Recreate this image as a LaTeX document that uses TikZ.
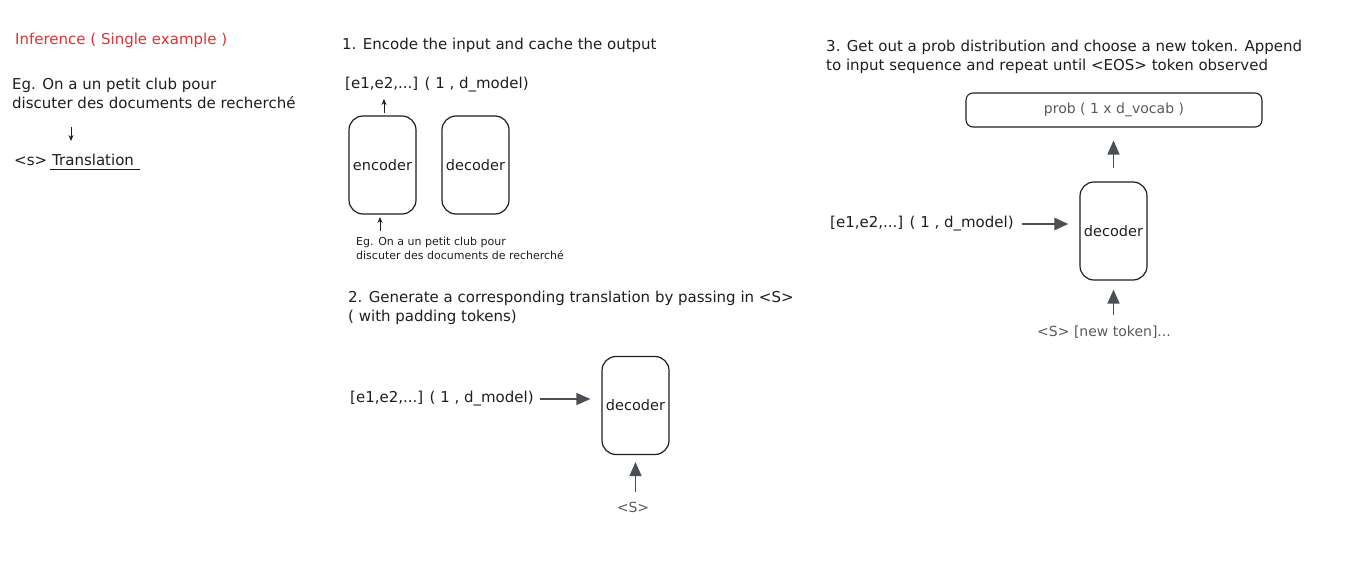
\documentclass[tikz,border=0pt]{standalone}
\usepackage{fontspec}
\setmainfont{DejaVu Sans}
\usetikzlibrary{arrows.meta}
\definecolor{exred}{HTML}{E03131}
\definecolor{exgray}{HTML}{555B61}
\definecolor{exdark}{HTML}{1E1E1E}
\definecolor{arrgray}{HTML}{4A4F55}
\tikzset{
  txt/.style={anchor=west,inner sep=0pt,font=\fontsize{15}{19}\selectfont,text=exdark},
  txtml/.style={anchor=north west,inner sep=0pt,align=left,font=\fontsize{15}{19}\selectfont,text=exdark},
  smalltxt/.style={anchor=north west,inner sep=0pt,align=left,font=\fontsize{11}{14}\selectfont,text=exdark},
  block/.style={draw=exdark,line width=1.2pt,rounded corners=14pt,minimum width=67pt,minimum height=98pt,inner sep=0pt,font=\fontsize{14.5}{19}\selectfont,text=exdark},
  probbox/.style={draw=exdark,line width=1.1pt,rounded corners=7pt,minimum width=296pt,minimum height=34pt,inner sep=0pt,font=\fontsize{14}{18}\selectfont,text=exgray},
  thinarr/.style={draw=exdark,line width=0.9pt,-{Stealth[length=6pt,width=5pt]}},
  bigarr/.style={draw=arrgray,line width=1.6pt,-{Triangle[length=14pt,width=12pt]}},
}
\begin{document}
\begin{tikzpicture}[x=1pt,y=-1pt]
\useasboundingbox (0,0) rectangle (1346,585);

% ---- left column
\node[txt,text=exred] (title) at (15,40) {Inference ( Single example )};
\node[txtml] (eg0) at (12,78) {Eg. On a un petit club pour\\discuter des documents de recherché};
\node[txt] (s0) at (14,161) {<s>};
\node[txt] (tr0) at (52,160) {Translation};
\coordinate (a0s) at (71,127);
\coordinate (a0e) at (71,141);
\draw[thinarr] (a0s) -- (a0e);
\draw[draw=exdark,line width=0.9pt] ([xshift=-2pt,yshift=-3pt]tr0.south west) -- ([xshift=6pt,yshift=-3pt]tr0.south east);

% ---- section 1
\node[txt] (h1) at (342,45) {1. Encode the input and cache the output};
\node[txt] (e1a) at (345,85) {[e1,e2,...] ( 1 , d\_model)};
\node[block] (enc) at (382.5,165) {encoder};
\node[block] (dec1) at (475.5,165) {decoder};
\node[smalltxt] (eg1) at (356,237) {Eg. On a un petit club pour\\discuter des documents de recherché};
\coordinate (a1s) at (384,113);
\coordinate (a1e) at (384,99);
\draw[thinarr] (a1s) -- (a1e);
\coordinate (a2s) at (380,231);
\coordinate (a2e) at (380,217);
\draw[thinarr] (a2s) -- (a2e);

% ---- section 2
\node[txtml] (h2) at (348,291) {2. Generate a corresponding translation by passing in <S>\\( with padding tokens)};
\node[txt] (e1b) at (350,399) {[e1,e2,...] ( 1 , d\_model)};
\node[block] (dec2) at (635.5,405.5) {decoder};
\node[inner sep=0pt,font=\fontsize{14}{18}\selectfont,text=exgray] (s2) at (633,507) {<S>};
\draw[bigarr,shorten <=6pt,shorten >=11pt] (e1b.east) -- (e1b.east -| dec2.west);
\draw[bigarr,shorten <=10pt,shorten >=7pt] (s2.north -| dec2.south) -- (dec2.south);

% ---- section 3
\node[txtml] (h3) at (826,40) {3. Get out a prob distribution and choose a new token. Append\\to input sequence and repeat until <EOS> token observed};
\node[probbox] (prob) at (1114,110) {prob ( 1 x d\_vocab )};
\node[block] (dec3) at (1113.5,231) {decoder};
\node[txt] (e1c) at (830,224) {[e1,e2,...] ( 1 , d\_model)};
\node[inner sep=0pt,font=\fontsize{14}{18}\selectfont,text=exgray] (nt) at (1104,332) {<S> [new token]...};
\draw[bigarr,shorten <=13pt,shorten >=13pt] (dec3.north) -- (dec3.north |- prob.south);
\draw[bigarr,line width=2.4pt,shorten <=8pt,shorten >=11pt] (e1c.east) -- (e1c.east -| dec3.west);
\draw[bigarr,shorten <=11pt,shorten >=9pt] (nt.north -| dec3.south) -- (dec3.south);
\end{tikzpicture}
\end{document}
